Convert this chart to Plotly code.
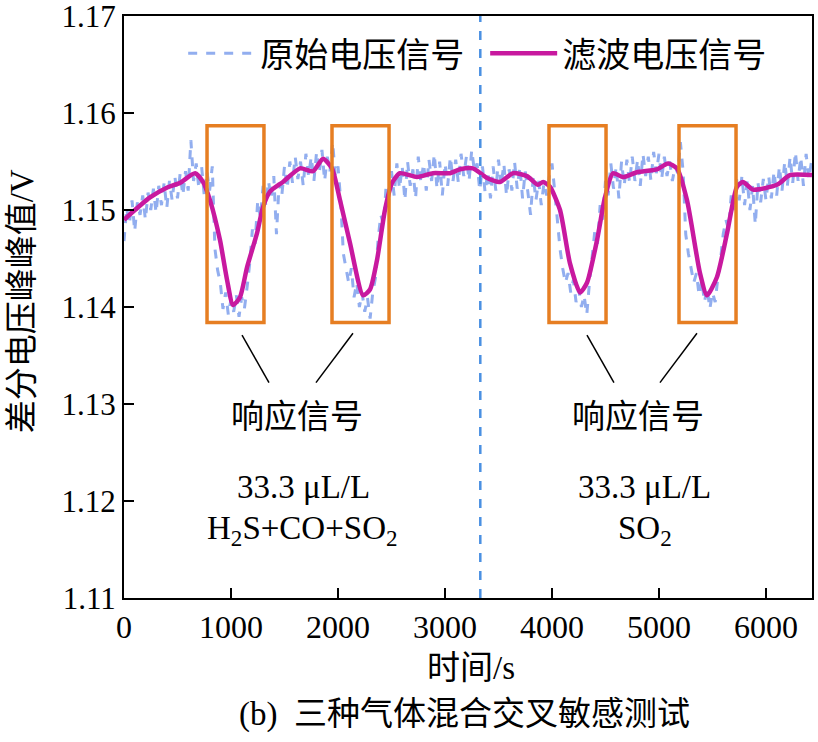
import plotly.graph_objects as go

# ---------------- data ----------------
raw_v = [
    # 0 - 775 s
    1.1468, 1.1502, 1.1485, 1.1510, 1.1478, 1.1508, 1.1495, 1.1515, 1.1490, 1.1518,
    1.1500, 1.1522, 1.1497, 1.1525, 1.1505, 1.1528, 1.1502, 1.1530, 1.1510, 1.1535,
    1.1512, 1.1538, 1.1515, 1.1540, 1.1520, 1.1572, 1.1530, 1.1548, 1.1522, 1.1545,
    1.1515, 1.1540,
    # 800 - 1300 s
    1.1520, 1.1545, 1.1460, 1.1438, 1.1425, 1.1398, 1.1415, 1.1392, 1.1408, 1.1395,
    1.1412, 1.1390, 1.1410, 1.1398, 1.1420, 1.1445, 1.1480, 1.1465, 1.1510, 1.1492,
    1.1525,
    # 1325 - 1925 s
    1.1505, 1.1530, 1.1512, 1.1535, 1.1475, 1.1528, 1.1515, 1.1545, 1.1522, 1.1550,
    1.1528, 1.1555, 1.1532, 1.1550, 1.1525, 1.1558, 1.1535, 1.1555, 1.1530, 1.1560,
    1.1538, 1.1562, 1.1530, 1.1555, 1.1540,
    # 1950 - 2475 s
    1.1570, 1.1535, 1.1545, 1.1510, 1.1455, 1.1440, 1.1425, 1.1440, 1.1410, 1.1425,
    1.1400, 1.1415, 1.1395, 1.1410, 1.1388, 1.1415, 1.1430, 1.1470, 1.1495, 1.1485,
    1.1525, 1.1510,
    # 2500 - 3925 s
    1.1540, 1.1515, 1.1548, 1.1522, 1.1545, 1.1510, 1.1550, 1.1525, 1.1542, 1.1512,
    1.1555, 1.1528, 1.1548, 1.1520, 1.1552, 1.1530, 1.1558, 1.1522, 1.1550, 1.1515,
    1.1548, 1.1525, 1.1555, 1.1530, 1.1552, 1.1528, 1.1558, 1.1535, 1.1555, 1.1530,
    1.1562, 1.1540, 1.1548, 1.1520, 1.1545, 1.1518, 1.1540, 1.1512, 1.1545, 1.1520,
    1.1552, 1.1525, 1.1548, 1.1515, 1.1542, 1.1520, 1.1550, 1.1522, 1.1545, 1.1512,
    1.1540, 1.1518, 1.1495, 1.1535, 1.1510, 1.1530, 1.1505, 1.1528,
    # 3950 - 4500 s
    1.1515, 1.1535, 1.1548, 1.1520, 1.1490, 1.1460, 1.1440, 1.1425, 1.1435, 1.1415,
    1.1428, 1.1405, 1.1418, 1.1400, 1.1412, 1.1392, 1.1425, 1.1450, 1.1478, 1.1465,
    1.1505, 1.1490, 1.1530,
    # 4525 - 5175 s
    1.1515, 1.1548, 1.1522, 1.1545, 1.1512, 1.1550, 1.1525, 1.1552, 1.1528, 1.1555,
    1.1530, 1.1552, 1.1525, 1.1558, 1.1535, 1.1555, 1.1530, 1.1560, 1.1538, 1.1558,
    1.1532, 1.1555, 1.1535, 1.1550, 1.1530, 1.1545, 1.1538,
    # 5200 - 5725 s
    1.1570, 1.1540, 1.1475, 1.1455, 1.1440, 1.1425, 1.1435, 1.1412, 1.1428, 1.1405,
    1.1420, 1.1398, 1.1415, 1.1405, 1.1430, 1.1448, 1.1475, 1.1490, 1.1480, 1.1515,
    1.1500, 1.1532,
    # 5750 - 6425 s
    1.1510, 1.1535, 1.1505, 1.1530, 1.1500, 1.1525, 1.1485, 1.1528, 1.1508, 1.1532,
    1.1510, 1.1535, 1.1512, 1.1540, 1.1515, 1.1545, 1.1520, 1.1550, 1.1525, 1.1555,
    1.1528, 1.1560, 1.1530, 1.1555, 1.1525, 1.1558, 1.1532, 1.1550,
]
raw_t = list(range(0, 25 * len(raw_v), 25))  # sampled every 25 s

filt_t = [0, 243, 400, 523, 664, 738, 804, 897, 963, 1019, 1084, 1150, 1243, 1299,
          1364, 1486, 1645, 1766, 1860, 1944, 2019, 2112, 2234, 2299, 2364, 2439,
          2505, 2579, 2738, 2888, 3047, 3140, 3262, 3393, 3514, 3636, 3766, 3869,
          3916, 3981, 4075, 4168, 4262, 4327, 4421, 4495, 4570, 4664, 4794, 4981,
          5084, 5168, 5262, 5383, 5449, 5542, 5636, 5729, 5785, 5879, 6103, 6224, 6430]
filt_v = [1.1490, 1.1513, 1.1523, 1.1528, 1.1538, 1.1529, 1.1510, 1.1469, 1.1428,
          1.1402, 1.1410, 1.1441, 1.1476, 1.1503, 1.1519, 1.1529, 1.1543, 1.1540,
          1.1553, 1.1543, 1.1510, 1.1466, 1.1412, 1.1418, 1.1448, 1.1500, 1.1528,
          1.1538, 1.1534, 1.1538, 1.1538, 1.1542, 1.1543, 1.1533, 1.1529, 1.1538,
          1.1535, 1.1526, 1.1529, 1.1524, 1.1500, 1.1445, 1.1415, 1.1425, 1.1469,
          1.1513, 1.1538, 1.1534, 1.1539, 1.1542, 1.1548, 1.1543, 1.1510, 1.1435,
          1.1412, 1.1431, 1.1476, 1.1524, 1.1529, 1.1521, 1.1526, 1.1536, 1.1536]

x_ticks = [0, 1000, 2000, 3000, 4000, 5000, 6000]
y_ticks = [1.11, 1.12, 1.13, 1.14, 1.15, 1.16, 1.17]
series_names = ["原始电压信号", "滤波电压信号"]

# annotation geometry
switch_t = 3330
box_x0 = [776, 1944, 3972, 5187]
box_x1 = [1308, 2477, 4505, 5720]
box_y0, box_y1 = 1.1384, 1.1587
leader = [((1103, 1.1371), (1355, 1.1322)),
          ((2140, 1.1373), (1794, 1.1322)),
          ((4327, 1.1371), (4579, 1.1322)),
          ((5355, 1.1373), (5009, 1.1322))]

SERIF = "Liberation Serif, Times New Roman, Noto Sans CJK SC, serif"

fig = go.Figure()
fig.add_trace(go.Scatter(
    x=raw_t, y=raw_v, mode="lines", name=series_names[0],
    line=dict(color="rgba(100,140,232,0.7)", width=3, dash="dash"),
))
fig.add_trace(go.Scatter(
    x=filt_t, y=filt_v, mode="lines", name=series_names[1],
    line=dict(color="#C8199F", width=4.5, shape="spline", smoothing=0.6),
))

shapes = []
for a, b in zip(box_x0, box_x1):
    shapes.append(dict(type="rect", xref="x", yref="y", x0=a, x1=b, y0=box_y0, y1=box_y1,
                       line=dict(color="#E67E22", width=3.5)))
for (p, q) in leader:
    shapes.append(dict(type="line", xref="x", yref="y", x0=p[0], y0=p[1], x1=q[0], y1=q[1],
                       line=dict(color="black", width=1.5)))
shapes.append(dict(type="line", xref="x", yref="paper", x0=switch_t, x1=switch_t, y0=0, y1=1,
                   line=dict(color="#4A90E2", width=2.5, dash="dash")))

annots = []
def txt(x, y, s):
    annots.append(dict(x=x, y=y, xref="x", yref="y", text=s, showarrow=False,
                       font=dict(family=SERIF, size=33, color="black")))

txt(1617, 1.1287, "响应信号")
txt(4804, 1.1287, "响应信号")
txt(1673, 1.1214, "33.3 μL/L")
txt(4869, 1.1214, "33.3 μL/L")
txt(1664, 1.1170, "H<sub>2</sub>S+CO+SO<sub>2</sub>")
txt(4869, 1.1170, "SO<sub>2</sub>")
annots.append(dict(x=0.495, y=-0.201, xref="paper", yref="paper", showarrow=False,
                   xanchor="center", yanchor="middle",
                   text="(b)  三种气体混合交叉敏感测试",
                   font=dict(family=SERIF, size=33, color="black")))
annots.append(dict(x=0.505, y=-0.12, xref="paper", yref="paper", showarrow=False,
                   xanchor="center", yanchor="middle",
                   text="时间/s",
                   font=dict(family=SERIF, size=33, color="black")))
annots.append(dict(x=-0.148, y=0.51, xref="paper", yref="paper", showarrow=False,
                   xanchor="center", yanchor="middle", textangle=-90,
                   text="差分电压峰峰值/V",
                   font=dict(family=SERIF, size=33, color="black")))

fig.update_layout(
    width=818, height=742,
    margin=dict(l=124, r=6, t=16, b=144, autoexpand=False),
    paper_bgcolor="white", plot_bgcolor="white",
    font=dict(family=SERIF, size=33, color="black"),
    shapes=shapes, annotations=annots,
    showlegend=True,
    legend=dict(orientation="h", x=0.086, y=0.985, xanchor="left", yanchor="top",
                bgcolor="rgba(0,0,0,0)", font=dict(family=SERIF, size=34),
                itemwidth=67, tracegroupgap=0, entrywidth=220),
)
fig.update_xaxes(
    range=[0, 6430], tickvals=x_ticks, ticktext=[str(v) for v in x_ticks],
    showline=True, linecolor="black", linewidth=2, mirror=True,
    ticks="inside", ticklen=10, tickwidth=2, tickcolor="black",
    showgrid=False, zeroline=False, automargin=False, ticklabeloverflow="allow",
    tickfont=dict(family=SERIF, size=32),
)
fig.update_yaxes(
    range=[1.10999, 1.17001], tickvals=y_ticks, ticktext=[f"{v:.2f}" for v in y_ticks],
    showline=True, linecolor="black", linewidth=2, mirror=True,
    ticks="inside", ticklen=10, tickwidth=2, tickcolor="black",
    showgrid=False, zeroline=False, automargin=False, ticklabeloverflow="allow",
    tickfont=dict(family=SERIF, size=31),
)

fig.write_html("out.html", config={"displayModeBar": False},
               post_script="document.body.style.margin='0';document.body.style.padding='0';")
